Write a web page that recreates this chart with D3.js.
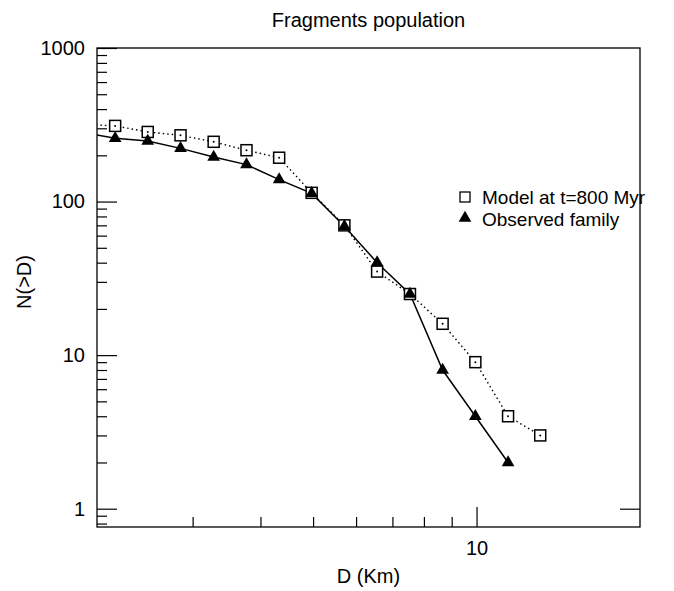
<!DOCTYPE html>
<html>
<head>
<meta charset="utf-8">
<script src="https://cdn.jsdelivr.net/npm/d3@7"></script>
<style>
  body { margin: 0; background: #fff; }
  text { font-family: "Liberation Sans", Arial, sans-serif; fill: #000; }
</style>
</head>
<body>
<div id="chart"></div>
<script>
// size of the page
const svgWidth = 674;
const svgHeight = 591;

// plot frame
const plotLeft = 97, plotRight = 640, plotTop = 48, plotBottom = 527;

// data (first point lies left of the frame, only its line shows)
const diameters = [1.88, 2.16, 2.48, 2.85, 3.28, 3.77, 4.33, 4.97, 5.71, 6.56, 7.54, 8.66, 9.95, 11.43, 13.1];
const modelCounts = [319, 311, 284, 270, 245, 216, 193, 114, 70, 35, 25, 16, 9, 4, 3];
const observedCounts = [282, 258, 248, 222, 195, 174, 139, 113, 69, 40, 25, 8, 4, 2];

// tick values
const xMajor = [10];
const xMinor = [3, 4, 5, 6, 7, 8, 9];
const yMajor = [1, 10, 100, 1000];
const yMinor = [0.8, 0.9, 2, 3, 4, 5, 6, 7, 8, 9, 20, 30, 40, 50, 60, 70, 80, 90, 200, 300, 400, 500, 600, 700, 800, 900];
const legendLabels = ["Model at t=800 Myr", "Observed family"];

const svg = d3.select("#chart")
  .append("svg")
    .attr("width", svgWidth)
    .attr("height", svgHeight)

const x = d3.scaleLog().domain([2, 20]).range([plotLeft, plotRight]);
const y = d3.scaleLog().domain([0.76, 1000]).range([plotBottom, plotTop]);

svg.append("defs").append("clipPath")
    .attr("id", "plotClip")
  .append("rect")
    .attr("x", plotLeft)
    .attr("y", plotTop)
    .attr("width", plotRight - plotLeft)
    .attr("height", plotBottom - plotTop)

// left axis, ticks pointing inwards
svg.append("g")
    .attr("transform", `translate(${plotLeft},0)`)
    .call(d3.axisLeft(y).tickValues(yMajor).tickSize(-20).tickPadding(12).tickFormat(d3.format("d")))
    .call(g => g.select(".domain").remove())
    .call(g => g.selectAll("text").style("font-size", "20px").attr("font-family", null))

svg.append("g")
    .attr("transform", `translate(${plotLeft},0)`)
    .call(d3.axisLeft(y).tickValues(yMinor).tickSize(-10).tickFormat(""))
    .call(g => g.select(".domain").remove())

// bottom axis
svg.append("g")
    .attr("transform", `translate(0,${plotBottom})`)
    .call(d3.axisBottom(x).tickValues(xMajor).tickSize(-20).tickPadding(14).tickFormat(d3.format("d")))
    .call(g => g.select(".domain").remove())
    .call(g => g.selectAll("text").style("font-size", "20px").attr("font-family", null))

svg.append("g")
    .attr("transform", `translate(0,${plotBottom})`)
    .call(d3.axisBottom(x).tickValues(xMinor).tickSize(-10).tickFormat(""))
    .call(g => g.select(".domain").remove())

// right axis has only one tick at 1
svg.append("g")
    .attr("transform", `translate(${plotRight},0)`)
    .call(d3.axisRight(y).tickValues([1]).tickSize(-20).tickFormat(""))
    .call(g => g.select(".domain").remove())

svg.selectAll(".tick line").attr("stroke", "#000").attr("stroke-width", 1.2)

// frame
svg.append("rect")
    .attr("x", plotLeft)
    .attr("y", plotTop)
    .attr("width", plotRight - plotLeft)
    .attr("height", plotBottom - plotTop)
    .attr("fill", "none")
    .attr("stroke", "#000")
    .attr("stroke-width", 1.3)

const plot = svg.append("g").attr("clip-path", "url(#plotClip)");

const modelPts = modelCounts.map((v, i) => [diameters[i], v]);
const obsPts = observedCounts.map((v, i) => [diameters[i], v]);

const line = d3.line().x(d => x(d[0])).y(d => y(d[1]));

plot.append("path")
    .attr("d", line(modelPts))
    .attr("fill", "none")
    .attr("stroke", "#000")
    .attr("stroke-width", 1.4)
    .attr("stroke-dasharray", "1.5,3")

plot.append("path")
    .attr("d", line(obsPts))
    .attr("fill", "none")
    .attr("stroke", "#000")
    .attr("stroke-width", 1.5)

// open squares with the dot of the dotted line in the middle
plot.selectAll(".sq")
  .data(modelPts.slice(1))
  .enter().append("rect")
    .attr("class", "sq")
    .attr("x", d => x(d[0]) - 5.5)
    .attr("y", d => y(d[1]) - 5.5)
    .attr("width", 11)
    .attr("height", 11)
    .attr("fill", "#fff")
    .attr("stroke", "#000")
    .attr("stroke-width", 1.5)

plot.selectAll(".sqdot")
  .data(modelPts.slice(1))
  .enter().append("circle")
    .attr("class", "sqdot")
    .attr("cx", d => x(d[0]))
    .attr("cy", d => y(d[1]))
    .attr("r", 1)
    .attr("fill", "#000")

const tri = d3.symbol().type(d3.symbolTriangle).size(70);

plot.selectAll(".tri")
  .data(obsPts.slice(1))
  .enter().append("path")
    .attr("class", "tri")
    .attr("transform", d => `translate(${x(d[0])},${y(d[1])})`)
    .attr("d", tri)
    .attr("fill", "#000")

// title and axis titles
svg.append("text")
    .attr("x", (plotLeft + plotRight) / 2)
    .attr("y", 27)
    .attr("text-anchor", "middle")
    .style("font-size", "20px")
    .text("Fragments population")

svg.append("text")
    .attr("x", (plotLeft + plotRight) / 2)
    .attr("y", 583)
    .attr("text-anchor", "middle")
    .style("font-size", "20px")
    .text("D (Km)")

svg.append("text")
    .attr("transform", "translate(31,282) rotate(-90)")
    .attr("text-anchor", "middle")
    .style("font-size", "20px")
    .text("N(>D)")

// legend
const legend = svg.append("g").attr("transform", "translate(465,197)");

legend.append("rect")
    .attr("x", -5)
    .attr("y", -5)
    .attr("width", 10)
    .attr("height", 10)
    .attr("fill", "#fff")
    .attr("stroke", "#000")
    .attr("stroke-width", 1.3)

legend.append("path")
    .attr("transform", "translate(0,21)")
    .attr("d", tri)
    .attr("fill", "#000")

legend.selectAll(".lbl")
  .data(legendLabels)
  .enter().append("text")
    .attr("class", "lbl")
    .attr("x", 17)
    .attr("y", (d, i) => 7 + i * 22)
    .style("font-size", "19px")
    .text(d => d)
</script>
</body>
</html>
